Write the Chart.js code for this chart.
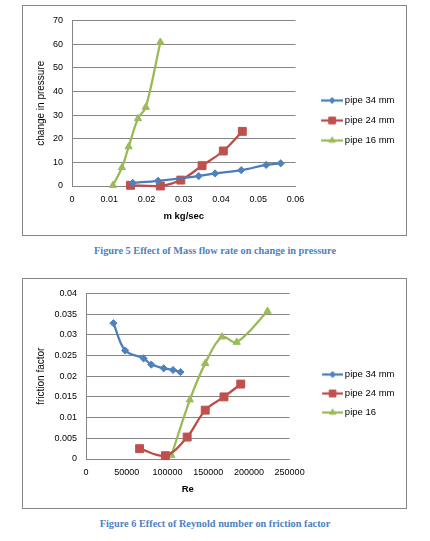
<!DOCTYPE html>
<html>
<head>
<meta charset="utf-8">
<title>Mass flow rate and Reynold number charts</title>
<script src="https://cdn.jsdelivr.net/npm/chart.js@4.4.1/dist/chart.umd.min.js"></script>
<style>
body { margin: 0; background: #fff; }
.box { position: absolute; left: 22px; width: 383px; height: 229px; border: 1px solid #868686; }
.box canvas { display: block; }
.cap { position: absolute; left: 0; width: 430px; text-align: center; font: bold 10.3px "Liberation Serif", serif; line-height: 12px; color: #4F81BD; }
</style>
</head>
<body>
<div class="box" style="top:5px"><canvas id="flowChart" width="383" height="229"></canvas></div>
<div class="cap" style="top:245px">Figure 5 Effect of Mass flow rate on change in pressure</div>
<div class="box" style="top:278px"><canvas id="reChart" width="383" height="229"></canvas></div>
<div class="cap" style="top:518px">Figure 6 Effect of Reynold number on friction factor</div>
<script>
// Figure 5: change in pressure vs mass flow rate
const flow34 = [0.0163, 0.0231, 0.034, 0.0384, 0.0454, 0.0521, 0.056];
const dp34 = [1.3, 2.2, 4.2, 5.3, 6.7, 8.9, 9.6];
const flow24 = [0.0157, 0.0237, 0.0292, 0.0349, 0.0406, 0.0457];
const dp24 = [0.3, 0, 2.5, 8.6, 14.8, 23.1];
const flow16 = [0.011, 0.0134, 0.0152, 0.0177, 0.0198, 0.0237];
const dp16 = [0.3, 7.8, 16.6, 28.5, 33.3, 60.8];
const names1 = ['pipe 34 mm', 'pipe 24 mm', 'pipe 16 mm'];
const flowTicks = [0, 0.01, 0.02, 0.03, 0.04, 0.05, 0.06];
const pressureTicks = [0, 10, 20, 30, 40, 50, 60, 70];

// Figure 6: friction factor vs Reynold number
const re34 = [33700, 48100, 70700, 80200, 95400, 106900, 116000];
const f34 = [0.0328, 0.0262, 0.0243, 0.0228, 0.0219, 0.0215, 0.0210];
const re24 = [65800, 97500, 124200, 146400, 169400, 190000];
const f24 = [0.0025, 0.0008, 0.0053, 0.0118, 0.0150, 0.0181];
const re16 = [104900, 127500, 146400, 166900, 185000, 222900];
const f16 = [0.0009, 0.0143, 0.0231, 0.0295, 0.0282, 0.0357];
const names2 = ['pipe 34 mm', 'pipe 24 mm', 'pipe 16'];
const reTicks = [0, 50000, 100000, 150000, 200000, 250000];
const frictionTicks = [0, 0.005, 0.01, 0.015, 0.02, 0.025, 0.03, 0.035, 0.04];

Chart.defaults.font.family = '"Liberation Sans", Arial, sans-serif';
Chart.defaults.color = '#000';

const styles = [
    { line: '#4A7EBB', fill: '#4F81BD', point: 'rectRot', radius: 3.6 },
    { line: '#BE4B48', fill: '#C0504D', point: 'rect', radius: 5.6 },
    { line: '#98B954', fill: '#9BBB59', point: 'triangle', radius: 4.2 }
];
const gridColor = '#868686';

function pairs(xs, ys) {
    return xs.map((x, i) => ({ x: x, y: ys[i] }));
}

function buildDatasets(names, xsList, ysList) {
    return names.map((name, i) => ({
        label: name,
        data: pairs(xsList[i], ysList[i]),
        borderColor: styles[i].line,
        backgroundColor: styles[i].fill,
        pointBackgroundColor: styles[i].fill,
        pointBorderColor: styles[i].fill,
        pointStyle: styles[i].point,
        pointRadius: styles[i].radius,
        pointBorderWidth: 1,
        borderWidth: 2.25,
        tension: 0.35,
        clip: false
    }));
}

// legend icon: short line with the marker in the middle, left part left empty as gap
function legendIcon(i, boxW, lineLen) {
    const c = document.createElement('canvas');
    c.width = boxW + 6;
    c.height = 14;
    const g = c.getContext('2d');
    g.strokeStyle = styles[i].line;
    g.lineWidth = 2.25;
    g.beginPath();
    g.moveTo(c.width - lineLen, 7);
    g.lineTo(c.width, 7);
    g.stroke();
    g.fillStyle = styles[i].fill;
    g.strokeStyle = styles[i].fill;
    g.lineWidth = 1;
    Chart.helpers.drawPoint(g, { pointStyle: styles[i].point, radius: styles[i].radius * 0.85, borderWidth: 1 }, c.width - lineLen / 2, 7);
    return c;
}

function makeChart(id, datasets, cfg) {
    return new Chart(document.getElementById(id), {
        type: 'line',
        data: { datasets: datasets },
        options: {
            responsive: false,
            animation: false,
            layout: { padding: { top: 0, right: cfg.rightPad, bottom: 0, left: 0 } },
            plugins: {
                title: { display: true, text: '', fullSize: false, padding: 0, font: { size: 10, lineHeight: 1 } },
                tooltip: { enabled: false },
                legend: {
                    position: 'right',
                    maxWidth: 140,
                    labels: {
                        usePointStyle: true,
                        pointStyleWidth: cfg.boxW,
                        padding: cfg.legendPad,
                        font: { size: 9.5 },
                        color: '#000',
                        generateLabels: chart => Chart.defaults.plugins.legend.labels.generateLabels(chart).map((it, i) => {
                            it.pointStyle = legendIcon(i, cfg.boxW, cfg.lineLen);
                            return it;
                        })
                    }
                }
            },
            scales: {
                x: {
                    type: 'linear',
                    min: cfg.xTicks[0],
                    max: cfg.xTicks[cfg.xTicks.length - 1],
                    afterFit: s => { s.height = 49; },
                    afterBuildTicks: s => { s.ticks = cfg.xTicks.map(v => ({ value: v })); },
                    grid: { display: false, drawTicks: false },
                    border: { color: gridColor },
                    ticks: { padding: 8.5, font: { size: 9 }, maxRotation: 0, autoSkip: false, callback: v => String(v) },
                    title: { display: true, text: cfg.xTitle, font: { size: 9.5, weight: 'bold' }, padding: { top: 0, bottom: 13 } }
                },
                y: {
                    min: cfg.yTicks[0],
                    max: cfg.yTicks[cfg.yTicks.length - 1],
                    afterFit: s => { s.width = cfg.yWidth; },
                    afterBuildTicks: s => { s.ticks = cfg.yTicks.map(v => ({ value: v })); },
                    grid: { color: gridColor, drawTicks: false },
                    border: { color: gridColor },
                    ticks: { padding: 9, font: { size: 9 }, autoSkip: false, callback: v => String(v) },
                    title: { display: true, text: cfg.yTitle, font: { size: 10 }, padding: { top: 12, bottom: 0 } }
                }
            }
        }
    });
}

makeChart('flowChart', buildDatasets(names1, [flow34, flow24, flow16], [dp34, dp24, dp16]), {
    xTicks: flowTicks, yTicks: pressureTicks, xTitle: 'm kg/sec', yTitle: 'change in pressure',
    yWidth: 49, rightPad: 1.5, boxW: 34, lineLen: 22, legendPad: 10.5
});

makeChart('reChart', buildDatasets(names2, [re34, re24, re16], [f34, f24, f16]), {
    xTicks: reTicks, yTicks: frictionTicks, xTitle: 'Re', yTitle: 'friction factor',
    yWidth: 63, rightPad: 1.5, boxW: 41, lineLen: 21, legendPad: 9.5
});
</script>
</body>
</html>
